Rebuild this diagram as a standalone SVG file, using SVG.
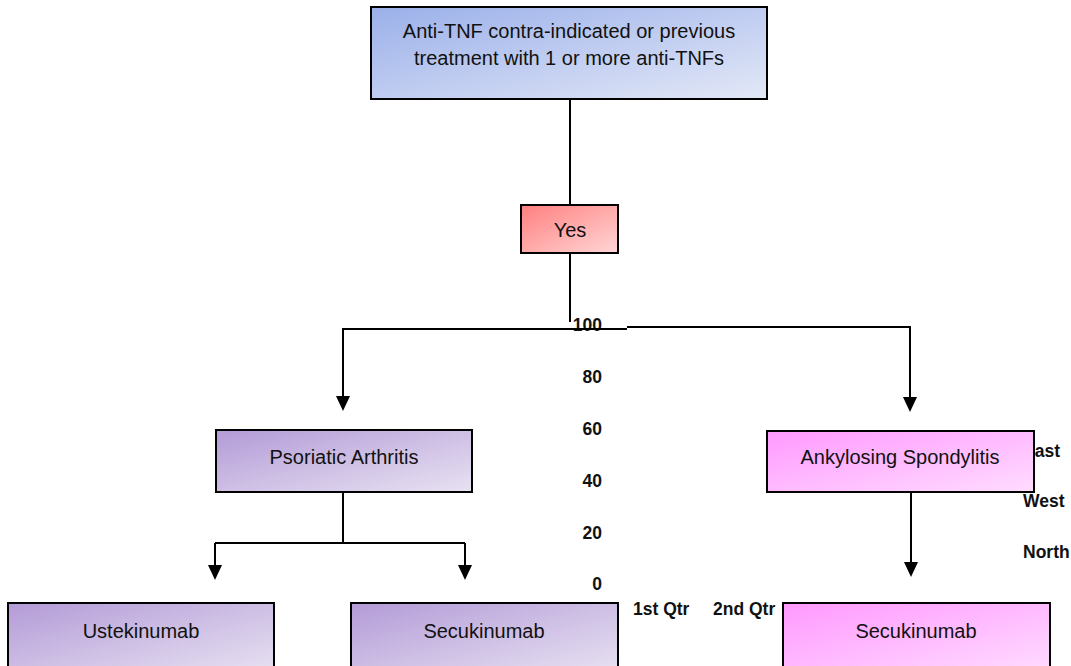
<svg xmlns="http://www.w3.org/2000/svg" width="1071" height="666" viewBox="0 0 1071 666">
<defs>
<linearGradient id="gBlue" x1="0" y1="0" x2="1" y2="1"><stop offset="0" stop-color="#9bb0ea"/><stop offset="1" stop-color="#e3e8f7"/></linearGradient>
<linearGradient id="gRed" x1="0" y1="0" x2="1" y2="1"><stop offset="0" stop-color="#ff7f7f"/><stop offset="1" stop-color="#ffd6d6"/></linearGradient>
<linearGradient id="gPurple" x1="0" y1="0" x2="1" y2="1"><stop offset="0" stop-color="#b39bd7"/><stop offset="1" stop-color="#e8e2f2"/></linearGradient>
<linearGradient id="gPink" x1="0" y1="0" x2="1" y2="1"><stop offset="0" stop-color="#ff99ff"/><stop offset="1" stop-color="#ffdcff"/></linearGradient>
<marker id="arr" viewBox="0 0 15 14" refX="5" refY="7" markerWidth="15" markerHeight="14" markerUnits="userSpaceOnUse" orient="auto"><path d="M0,0 L15,7 L0,14 Z" fill="#000"/></marker>
</defs>
<style>
.box{stroke:#000;stroke-width:2}
.t{font-family:"Liberation Sans",Arial,sans-serif;font-size:20px;fill:#111;text-anchor:middle}
.c{font-family:"Liberation Sans",Arial,sans-serif;font-size:17.5px;font-weight:bold;fill:#111}
.ax{text-anchor:end}
.ln{fill:none;stroke:#000;stroke-width:2}
</style>
<g id="chart-labels">
<text class="c ax" x="602" y="331">100</text>
<text class="c ax" x="602" y="383">80</text>
<text class="c ax" x="602" y="435">60</text>
<text class="c ax" x="602" y="487">40</text>
<text class="c ax" x="602" y="539">20</text>
<text class="c ax" x="602" y="590">0</text>
<text class="c" x="633" y="615">1st Qtr</text>
<text class="c" x="713" y="615">2nd Qtr</text>
<text class="c" x="797" y="615">3rd Qtr</text>
<text class="c" x="876" y="615">4th Qtr</text>
<text class="c" x="1023" y="457">East</text>
<text class="c" x="1023" y="507">West</text>
<text class="c" x="1023" y="558">North</text>
</g>
<g id="connectors">
<path class="ln" d="M570,99 V205"/>
<path class="ln" d="M570,253 V322"/>
<path class="ln" d="M627,329 H343 V401" marker-end="url(#arr)"/>
<path class="ln" d="M627,327 H910 V402" marker-end="url(#arr)"/>
<path class="ln" d="M343,492 V543"/>
<path class="ln" d="M215,543 H465"/>
<path class="ln" d="M215,543 V570" marker-end="url(#arr)"/>
<path class="ln" d="M465,543 V570" marker-end="url(#arr)"/>
<path class="ln" d="M911,492 V567" marker-end="url(#arr)"/>
</g>
<g id="node-anti-tnf">
<rect class="box" x="371" y="7" width="396" height="92" fill="url(#gBlue)"/>
<text class="t" x="569" y="38">Anti-TNF contra-indicated or previous</text>
<text class="t" x="569" y="65">treatment with 1 or more anti-TNFs</text>
</g>
<g id="node-yes">
<rect class="box" x="521" y="205" width="97" height="48" fill="url(#gRed)"/>
<text class="t" x="570" y="237">Yes</text>
</g>
<g id="node-psoriatic">
<rect class="box" x="216" y="430" width="256" height="62" fill="url(#gPurple)"/>
<text class="t" x="344" y="464">Psoriatic Arthritis</text>
</g>
<g id="node-ankylosing">
<rect class="box" x="767" y="431" width="267" height="61" fill="url(#gPink)"/>
<text class="t" x="900" y="464">Ankylosing Spondylitis</text>
</g>
<g id="node-ustekinumab">
<rect class="box" x="8" y="603" width="266" height="70" fill="url(#gPurple)"/>
<text class="t" x="141" y="638">Ustekinumab</text>
</g>
<g id="node-secukinumab-psa">
<rect class="box" x="351" y="603" width="267" height="70" fill="url(#gPurple)"/>
<text class="t" x="484" y="638">Secukinumab</text>
</g>
<g id="node-secukinumab-as">
<rect class="box" x="783" y="603" width="267" height="70" fill="url(#gPink)"/>
<text class="t" x="916" y="638">Secukinumab</text>
</g>
</svg>
